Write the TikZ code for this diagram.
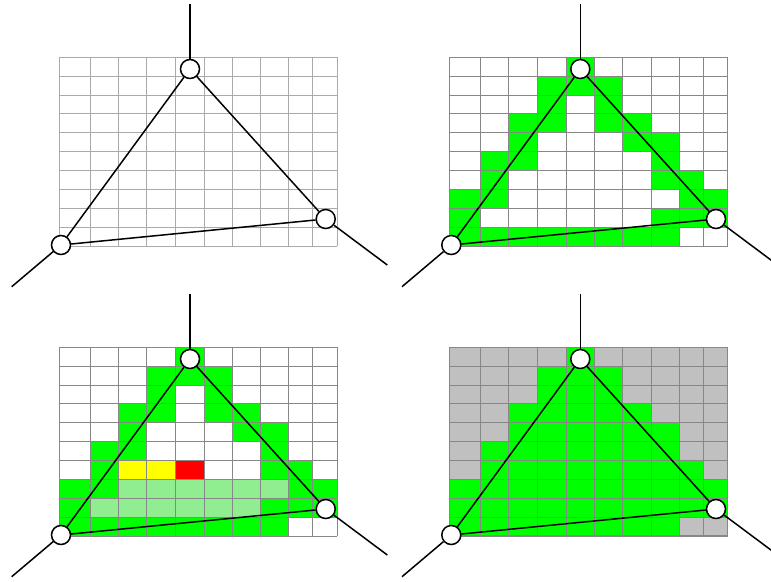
\documentclass[tikz,border=0pt]{standalone}
\begin{document}
\definecolor{cellgreen}{RGB}{0,255,0}
\definecolor{cellpale}{RGB}{144,238,144}
\definecolor{cellyellow}{RGB}{255,255,0}
\definecolor{cellred}{RGB}{255,0,0}
\definecolor{cellgray}{RGB}{192,192,192}
\definecolor{gridlight}{RGB}{170,170,170}
\definecolor{griddark}{RGB}{135,135,135}
\def\colx{{59,90,118.3,146.7,175.7,204,232.3,260.7,288.7,312.7,337.3}}
\def\rowy{{57.3,76,95,113.3,132.7,151.7,170.7,189.3,208.3,227.3,246}}
% fill a run of cells: ox, oy, colour, row, first col, last col
\newcommand\cellrun[6]{%
  \pgfmathsetmacro\xa{\colx[#5]+#1}%
  \pgfmathsetmacro\xb{\colx[#6+1]+#1}%
  \pgfmathsetmacro\ya{\rowy[#4]+#2}%
  \pgfmathsetmacro\yb{\rowy[#4+1]+#2}%
  \fill[#3] (\xa,\ya) rectangle (\xb,\yb);}
\newcommand\cellgrid[3]{%
  \foreach \i in {0,...,10}{%
    \pgfmathsetmacro\xx{\colx[\i]+#1}%
    \pgfmathsetmacro\ya{\rowy[0]+#2}%
    \pgfmathsetmacro\yb{\rowy[10]+#2}%
    \draw[#3] (\xx,\ya) -- (\xx,\yb);
    \pgfmathsetmacro\yy{\rowy[\i]+#2}%
    \pgfmathsetmacro\xa{\colx[0]+#1}%
    \pgfmathsetmacro\xb{\colx[10]+#1}%
    \draw[#3] (\xa,\yy) -- (\xb,\yy);
  }}
\newcommand\outline[2]{%
  \foreach \r/\a/\b in {0/4/4,1/3/5,2/3/3,2/5/5,3/2/3,3/5/6,4/2/2,4/6/7,5/1/2,5/7/7,6/1/1,6/7/8,7/0/1,7/8/9,8/0/0,8/7/9,9/0/7}{%
    \cellrun{#1}{#2}{cellgreen}{\r}{\a}{\b}}}
\newcommand\triangleset[3]{%
  \node[vtx] (#3T) at (#1+190,#2+69) {};
  \node[vtx] (#3L) at (#1+61,#2+245) {};
  \node[vtx] (#3R) at (#1+325.7,#2+219) {};
  \coordinate (#3Te) at (#1+190,#2+4);
  \coordinate (#3Le) at (#1+11.7,#2+286.7);
  \coordinate (#3Re) at (#1+387.3,#2+265);
  \draw[edge] (#3T) -- (#3L);
  \draw[edge] (#3T) -- (#3R);
  \draw[edge] (#3L) -- (#3R);
  \draw[edge] (#3T) -- (#3Te);
  \draw[edge] (#3L) -- (#3Le);
  \draw[edge] (#3R) -- (#3Re);}
\begin{tikzpicture}[x=1pt,y=-1pt,
  vtx/.style={circle,draw=black,fill=white,line width=1.5pt,minimum size=19pt,inner sep=0pt},
  edge/.style={black,line width=1.5pt},
  lightgrid/.style={gridlight,line width=1pt},
  darkgrid/.style={griddark,line width=1pt}]
\useasboundingbox (0,0) rectangle (771,581);
% panel 1
\cellgrid{0}{0}{lightgrid}
\triangleset{0}{0}{a}
% panel 2
\outline{390.3}{0}
\cellgrid{390.3}{0}{darkgrid}
\triangleset{390.3}{0}{b}
% panel 3
\outline{0}{290}
\cellrun{0}{290}{cellyellow}{6}{2}{3}
\cellrun{0}{290}{cellred}{6}{4}{4}
\cellrun{0}{290}{cellpale}{7}{2}{7}
\cellrun{0}{290}{cellpale}{8}{1}{6}
\cellgrid{0}{290}{darkgrid}
\triangleset{0}{290}{c}
% panel 4
\cellrun{390.3}{290}{cellgray}{0}{0}{9}
\foreach \r in {1,...,9}{\cellrun{390.3}{290}{cellgray}{\r}{0}{9}}
\foreach \r/\a/\b in {0/4/4,1/3/5,2/3/5,3/2/6,4/2/7,5/1/7,6/1/8,7/0/9,8/0/9,9/0/7}{%
  \cellrun{390.3}{290}{cellgreen}{\r}{\a}{\b}}
\cellgrid{390.3}{290}{darkgrid}
\draw[griddark,line width=1.6pt] (390.3+59,290+57.3) rectangle (390.3+337.3,290+246);
\triangleset{390.3}{290}{d}
\end{tikzpicture}
\end{document}
